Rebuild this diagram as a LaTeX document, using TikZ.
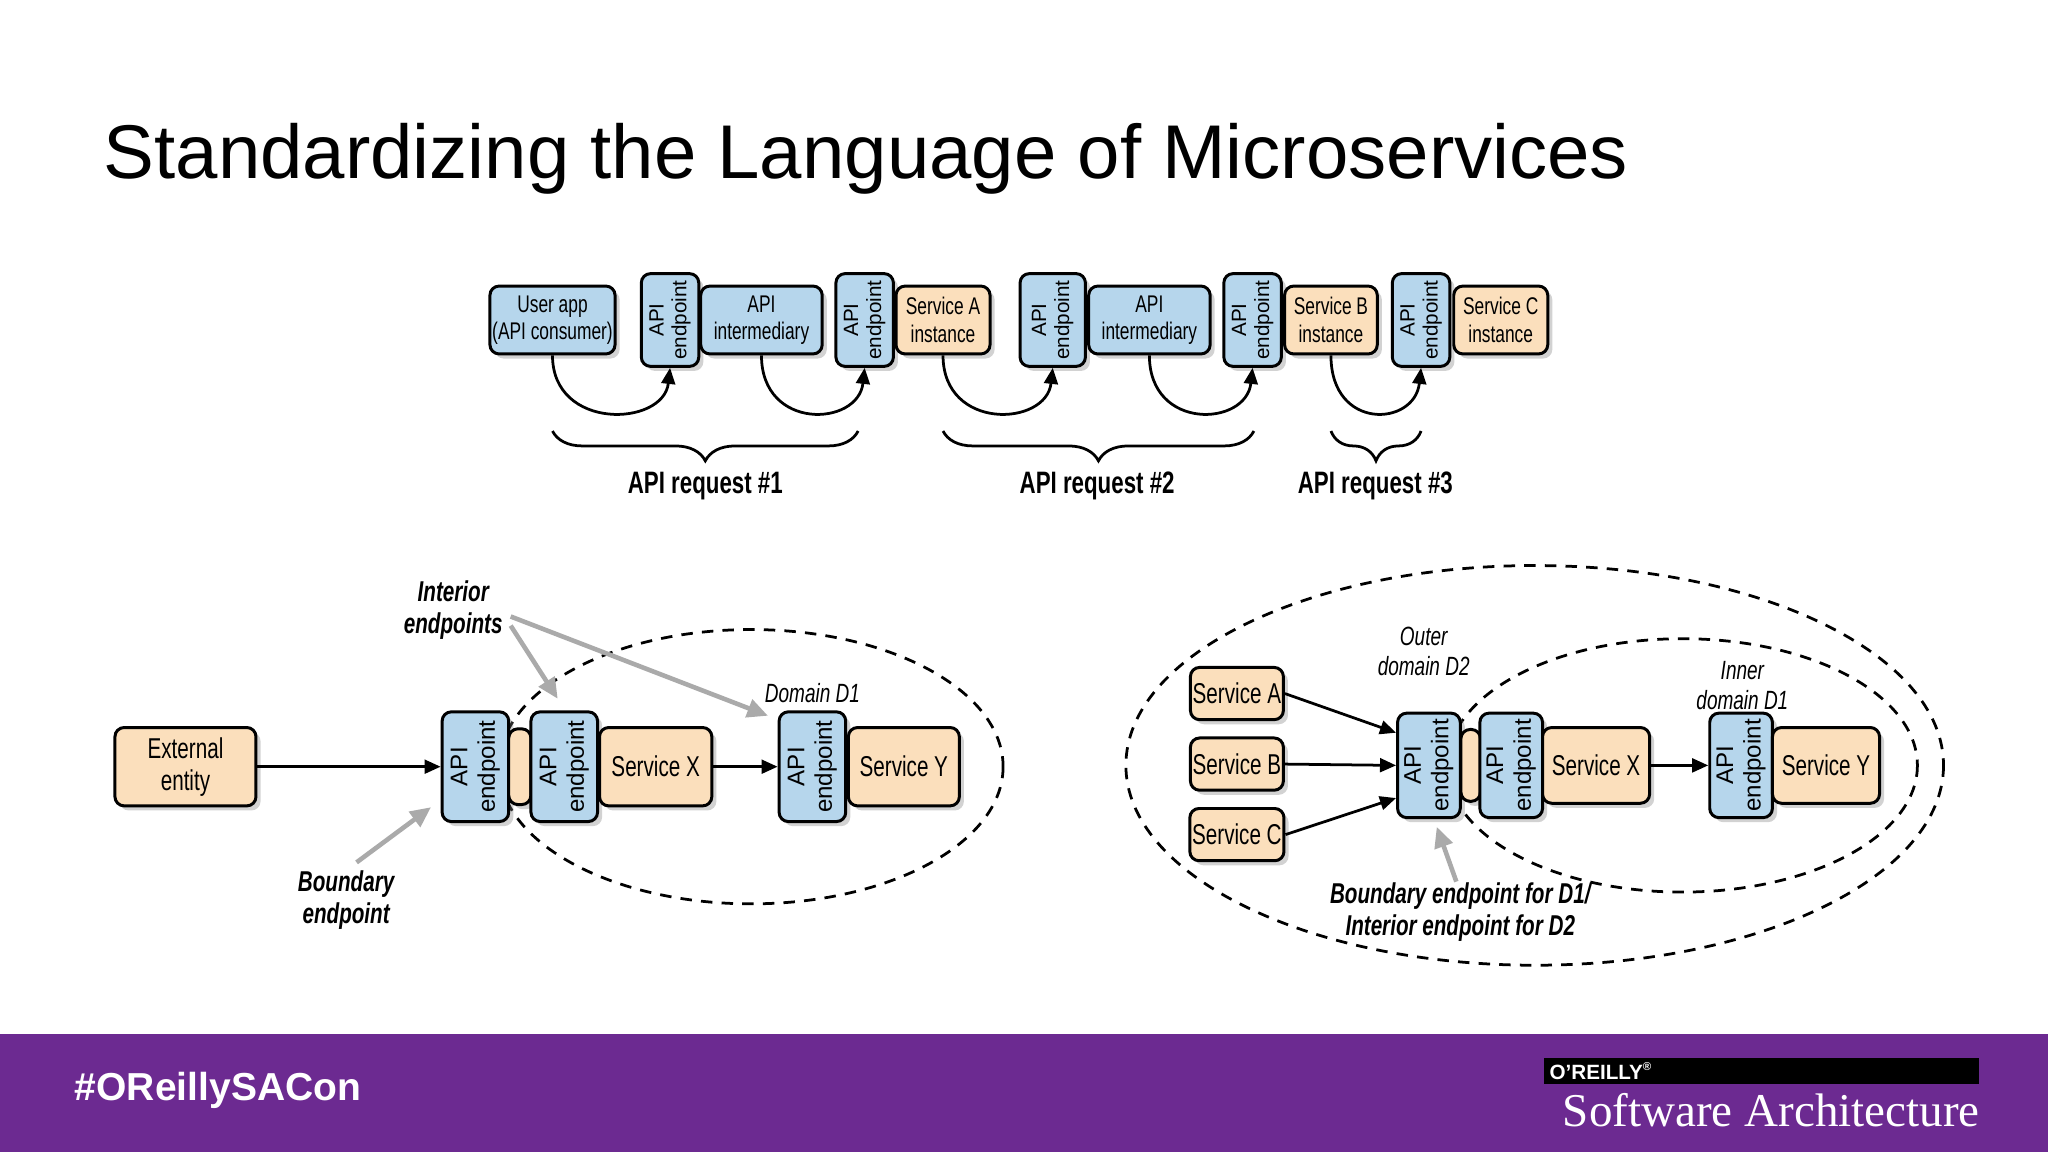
\documentclass[tikz,border=0pt]{standalone}
\usepackage{fontspec}
\setmainfont{Liberation Sans}
\newfontfamily\cond{Liberation Sans}[FakeStretch=0.72]
\newfontfamily\serifsa{Liberation Serif}
\usetikzlibrary{shadows,decorations.pathreplacing,arrows.meta}
\definecolor{epblue}{RGB}{182,214,236}
\definecolor{svcorange}{RGB}{251,223,188}
\definecolor{band}{RGB}{108,42,145}
\definecolor{hintgray}{RGB}{170,170,170}
\tikzset{
  box/.style={draw=black, line width=1.3pt, rounded corners=4pt, align=center,
    inner sep=1pt, drop shadow={shadow xshift=2pt, shadow yshift=-2pt, opacity=.35}},
  user/.style={box, fill=epblue, font=\cond\fontsize{10.5}{12}\selectfont},
  svc/.style={box, fill=svcorange, font=\cond\fontsize{10.5}{12}\selectfont},
  svcbig/.style={box, fill=svcorange, font=\cond\fontsize{12.5}{14}\selectfont},
  ep/.style={box, fill=epblue, rotate=90, font=\fontsize{9}{10}\selectfont},
  call/.style={line width=1.2pt, -{Triangle[length=7pt,width=6pt]}},
  hint/.style={line width=2pt, draw=hintgray, -{Triangle[length=9pt,width=8pt]}},
  bounded/.style={line width=1.2pt, dash pattern=on 5pt off 4pt},
  tag/.style={font=\cond\bfseries\itshape\fontsize{12.5}{14}\selectfont, align=center},
  dlabel/.style={font=\cond\itshape\fontsize{11.5}{13}\selectfont, align=center},
  reqlabel/.style={font=\cond\bfseries\fontsize{13.5}{15}\selectfont},
  req/.style={line width=1.2pt, decorate, decoration={brace, mirror, amplitude=13pt}}
}
\begin{document}
\begin{tikzpicture}[x=0.02cm, y=-0.02cm]
\useasboundingbox (0,0) rectangle (1568,882);
\fill[white] (0,0) rectangle (1568,882);
% title
\node[anchor=base west, font=\fontsize{33.2}{40}\selectfont, inner sep=0] (title) at (79,137) {Standardizing the Language of Microservices};

% top row: request chain
\node[user, minimum width=1.88cm, minimum height=1.04cm] (app) at (423,245) {User app\\(API consumer)};
\node[ep, minimum width=1.42cm, minimum height=0.88cm] (ep1) at (513,245) {API\\endpoint};
\node[user, minimum width=1.86cm, minimum height=1.04cm] (mid1) at (583,245) {API\\intermediary};
\node[ep, minimum width=1.42cm, minimum height=0.88cm] (ep2) at (662,245) {API\\endpoint};
\node[svc, minimum width=1.44cm, minimum height=1.04cm] (sa) at (722,245) {Service A\\instance};
\node[ep, minimum width=1.42cm, minimum height=1.0cm] (ep3) at (806,245) {API\\endpoint};
\node[user, minimum width=1.86cm, minimum height=1.04cm] (mid2) at (880,245) {API\\intermediary};
\node[ep, minimum width=1.42cm, minimum height=0.88cm] (ep4) at (959,245) {API\\endpoint};
\node[svc, minimum width=1.42cm, minimum height=1.04cm] (sb) at (1019,245) {Service B\\instance};
\node[ep, minimum width=1.42cm, minimum height=0.88cm] (ep5) at (1088,245) {API\\endpoint};
\node[svc, minimum width=1.44cm, minimum height=1.04cm] (sc) at (1149,245) {Service C\\instance};

\draw[call] (app.south) .. controls +(0,58) and +(-5,45) .. (ep1.west);
\draw[call] (mid1.south) .. controls +(0,58) and +(-5,45) .. (ep2.west);
\draw[call] (sa.south) .. controls +(0,58) and +(-5,45) .. (ep3.west);
\draw[call] (mid2.south) .. controls +(0,58) and +(-5,45) .. (ep4.west);
\draw[call] (sb.south) .. controls +(0,58) and +(-5,45) .. (ep5.west);

\coordinate (b1l) at (423,330); \coordinate (b1r) at (657,330);
\coordinate (b2l) at (722,330); \coordinate (b2r) at (960,330);
\coordinate (b3l) at (1019,330); \coordinate (b3r) at (1088,330);
\draw[req] (b1l) -- (b1r);
\draw[req] (b2l) -- (b2r);
\draw[req] (b3l) -- (b3r);
\node[reqlabel] (r1) at (540,372) {API request \#1};
\node[reqlabel] (r2) at (840,372) {API request \#2};
\node[reqlabel] (r3) at (1053,372) {API request \#3};

% bottom left: single domain
\draw[bounded] (575,587) ellipse (193 and 105);
\node[svcbig, minimum width=2.16cm, minimum height=1.2cm] (ext) at (142,587) {External\\entity};
\node[ep, minimum width=1.68cm, minimum height=1.02cm, font=\fontsize{10.5}{12}\selectfont] (bep1) at (364,587) {API\\endpoint};
\node[box, fill=svcorange, minimum width=0.34cm, minimum height=1.16cm] (bsl) at (398,587) {};
\node[ep, minimum width=1.68cm, minimum height=1.02cm, font=\fontsize{10.5}{12}\selectfont] (bep2) at (432,587) {API\\endpoint};
\node[svcbig, minimum width=1.72cm, minimum height=1.2cm] (bsx) at (502,587) {Service X};
\node[ep, minimum width=1.68cm, minimum height=1.02cm, font=\fontsize{10.5}{12}\selectfont] (bep3) at (622,587) {API\\endpoint};
\node[svcbig, minimum width=1.7cm, minimum height=1.2cm] (bsy) at (692,587) {Service Y};
\draw[call] (ext) -- (bep1.north);
\draw[call] (bsx) -- (bep3.north);
\node[dlabel] (d1) at (622,531) {Domain D1};
\node[tag] (inner) at (347,467) {Interior\\endpoints};
\coordinate (t1) at (427,535); \coordinate (t2) at (588,548);
\draw[hint] (inner.east) ++(0,12) -- (t1);
\draw[hint] (inner.east) ++(0,5) -- (t2);
\node[tag] (bnd) at (265,689) {Boundary\\endpoint};
\coordinate (t3) at (330,618);
\draw[hint] (bnd.north) ++(8,0) -- (t3);

% bottom right: nested domains
\draw[bounded] (1175,586) ellipse (313 and 153);
\draw[bounded] (1288,586) ellipse (180 and 97);
\node[svcbig, minimum width=1.36cm, minimum height=0.8cm] (rsa) at (947,531) {Service A};
\node[svcbig, minimum width=1.36cm, minimum height=0.8cm] (rsb) at (947,585) {Service B};
\node[svcbig, minimum width=1.36cm, minimum height=0.8cm] (rsc) at (947,639) {Service C};
\node[ep, minimum width=1.6cm, minimum height=0.96cm, font=\fontsize{10.5}{12}\selectfont] (rep1) at (1094,586) {API\\endpoint};
\node[box, fill=svcorange, minimum width=0.3cm, minimum height=1.1cm] (rsl) at (1126,586) {};
\node[ep, minimum width=1.6cm, minimum height=0.96cm, font=\fontsize{10.5}{12}\selectfont] (rep2) at (1157,586) {API\\endpoint};
\node[svcbig, minimum width=1.64cm, minimum height=1.16cm] (rsx) at (1222,586) {Service X};
\node[ep, minimum width=1.6cm, minimum height=0.96cm, font=\fontsize{10.5}{12}\selectfont] (rep3) at (1333,586) {API\\endpoint};
\node[svcbig, minimum width=1.64cm, minimum height=1.16cm] (rsy) at (1398,586) {Service Y};
\draw[call] (rsa.east) -- ([yshift=0.5cm]rep1.north);
\draw[call] (rsb.east) -- (rep1.north);
\draw[call] (rsc.east) -- ([yshift=-0.5cm]rep1.north);
\draw[call] (rsx) -- (rep3.north);
\node[dlabel] (d2) at (1090,499) {Outer\\domain D2};
\node[dlabel] (d1b) at (1334,525) {Inner\\domain D1};
\node[tag] (bnd2) at (1118,698) {Boundary endpoint for D1/\\Interior endpoint for D2};
\coordinate (t4) at (1100,633);
\draw[hint] (1115,675) -- (t4);

% footer band
\fill[band] (0,792) rectangle (1568,882);
\node[anchor=west, text=white, font=\bfseries\fontsize{17}{20}\selectfont, inner sep=0] (hash) at (57,835) {\#OReillySACon};
\fill[black] (1182,810) rectangle (1515,830);
\node[anchor=west, text=white, font=\bfseries\fontsize{9}{10}\selectfont, inner sep=0] (orly) at (1186,820) {O'REILLY\textsuperscript{\tiny ®}};
\node[anchor=east, text=white, font=\serifsa\fontsize{20.5}{24}\selectfont, inner sep=0] (sa2) at (1516,850) {Software Architecture};
\end{tikzpicture}
\end{document}
